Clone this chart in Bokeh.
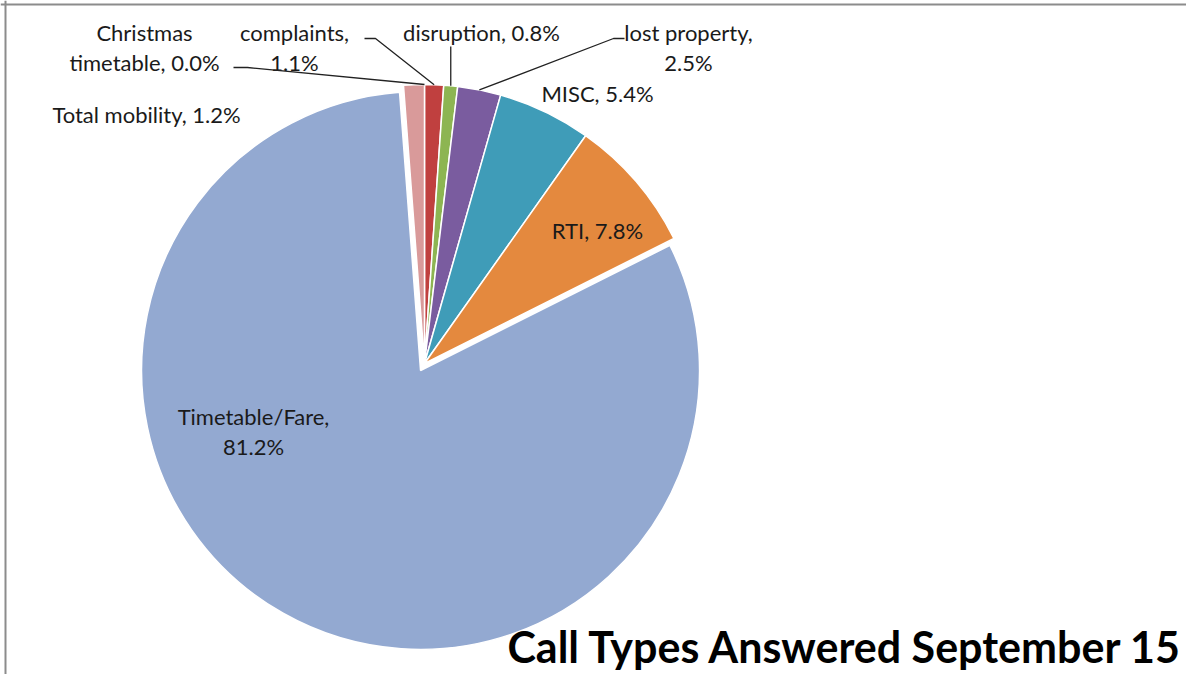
import math
from bokeh.plotting import figure
from bokeh.models import Range1d, ColumnDataSource, Span
from bokeh.core.properties import value
from bokeh.embed import file_html
from bokeh.resources import INLINE

# ---------------- data ----------------
categories = ["Christmas timetable", "complaints", "disruption", "lost property",
              "MISC", "RTI", "Timetable/Fare", "Total mobility"]
shares = [0.0, 1.1, 0.8, 2.5, 5.4, 7.8, 81.2, 1.2]
colors = ["#4F81BD", "#C0403F", "#8DB552", "#7A5C9F",
          "#3F9CB8", "#E4893E", "#93A9D1", "#D99A9A"]
title = "Call Types Answered September 15"

# ---------------- layout (screen px) ----------------
W, H = 1186, 674
OX, OY = 0, 0
CX, CY, R = 424, 363, 279
EXPLODE = {"Timetable/Fare": 8}
FONT = "Lato"
LABEL_SIZE = "22px"
LABEL_POS = {
    "Christmas timetable": (144, 32, "split_word"),
    "complaints": (294, 32, "split"),
    "disruption": (481, 32, None),
    "lost property": (688, 32, "split"),
    "MISC": (597, 93, None),
    "RTI": (597, 230, None),
    "Timetable/Fare": (253, 416, "split"),
    "Total mobility": (146, 114, None),
}
LINE_GAP = 30
LEADERS = {
    "Christmas timetable": [(233, 67), (247, 67)],
    "complaints": [(364, 38), (375, 38)],
    "disruption": [(None, 46)],
    "lost property": [(624, 38), (613, 38)],
}


def sy(y):
    return -y


p = figure(width=W, height=H, output_backend="svg", toolbar_location=None,
           x_range=Range1d(OX, OX + W), y_range=Range1d(-(OY + H), -OY),
           min_border=0, background_fill_color="white",
           border_fill_color="white")
p.axis.visible = False
p.grid.visible = False
p.outline_line_color = None
p.add_layout(Span(location=-4, dimension="width", line_color="#8c8c8c", line_width=2))
p.add_layout(Span(location=5, dimension="height", line_color="#8c8c8c", line_width=2))

total = sum(shares)
wx, wy, ws, we, wc = [], [], [], [], []
mids = {}
cum = 0.0
for cat, s, c in zip(categories, shares, colors):
    a0 = cum / total * 360.0
    a1 = (cum + s) / total * 360.0
    cum += s
    mid = (a0 + a1) / 2.0
    mids[cat] = mid
    off = EXPLODE.get(cat, 0)
    cx = CX + off * math.sin(math.radians(mid))
    cy = CY - off * math.cos(math.radians(mid))
    if s <= 0:
        continue
    wx.append(cx)
    wy.append(sy(cy))
    ws.append(math.radians(90 - a1))
    we.append(math.radians(90 - a0))
    wc.append(c)

src = ColumnDataSource(dict(x=wx, y=wy, start=ws, end=we, color=wc))
p.wedge(x="x", y="y", radius=R, start_angle="start", end_angle="end",
        fill_color="color", line_color="white", line_width=1.5, source=src)

tx, ty, tt = [], [], []
for cat, s in zip(categories, shares):
    lx, ly, mode = LABEL_POS[cat]
    if mode == "split":
        lines = [f"{cat},", f"{s:.1f}%"]
    elif mode == "split_word":
        first, rest = cat.split(" ", 1)
        lines = [first, f"{rest}, {s:.1f}%"]
    else:
        lines = [f"{cat}, {s:.1f}%"]
    for i, ln in enumerate(lines):
        tx.append(lx)
        ty.append(sy(ly + i * LINE_GAP))
        tt.append(ln)
p.text(x=tx, y=ty, text=tt, text_font=value(FONT), text_font_size=LABEL_SIZE,
       text_align="center", text_baseline="middle", text_color="#1a1a1a")

for cat, pts in LEADERS.items():
    mid = math.radians(mids[cat])
    ex = CX + R * math.sin(mid)
    ey = CY - R * math.cos(mid)
    xs, ys = [], []
    for (px_, py_) in pts:
        xs.append(ex if px_ is None else px_)
        ys.append(sy(py_))
    xs.append(ex)
    ys.append(sy(ey))
    p.line(xs, ys, line_color="#222222", line_width=1.3)

p.text(x=[1183], y=[sy(646)], text=[title], text_font=value(FONT),
       text_font_size="43px", text_font_style="bold", text_align="right",
       text_baseline="middle", text_color="black")

open("out.html", "w").write(file_html(p, INLINE))
